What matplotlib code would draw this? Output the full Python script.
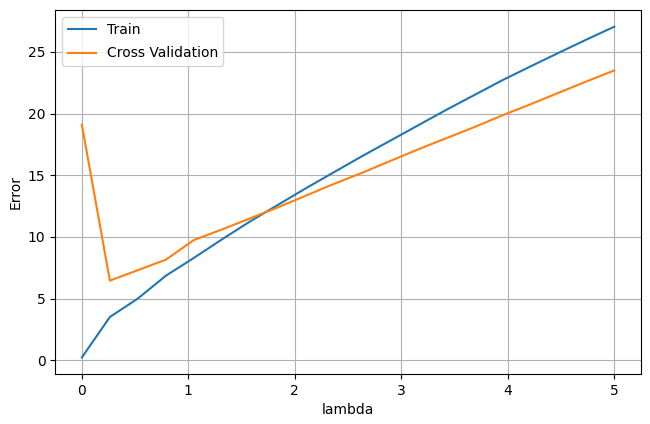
import numpy as np
import matplotlib
matplotlib.use('Agg')
import matplotlib.pyplot as plt

''' Data '''
lambdas = [0.0, 0.263, 0.526, 0.789, 1.053, 1.316, 1.579, 1.842, 2.105, 2.368,
           2.632, 2.895, 3.158, 3.421, 3.684, 3.947, 4.211, 4.474, 4.737, 5.0]
train_err = [0.22, 3.5, 5.0, 6.85, 8.3, 9.8, 11.25, 12.6, 13.95, 15.25,
             16.55, 17.8, 19.05, 20.3, 21.5, 22.7, 23.82, 24.92, 26.0, 27.05]
cv_err = [19.1, 6.45, 7.3, 8.15, 9.75, 10.6, 11.5, 12.4, 13.35, 14.3,
          15.2, 16.15, 17.1, 18.0, 18.9, 19.85, 20.75, 21.68, 22.6, 23.5]

fig = plt.figure(figsize=(6.5, 4.24), dpi=100)
ax = fig.add_axes([0.085, 0.118, 0.901, 0.858])
ax.plot(lambdas, train_err, label='Train')
ax.plot(lambdas, cv_err, label='Cross Validation')
ax.set_xlabel('lambda')
ax.set_ylabel('Error')
ax.grid(True)
ax.legend(loc='upper left', labelspacing=0.7)
fig.savefig('out.png', dpi=100)
